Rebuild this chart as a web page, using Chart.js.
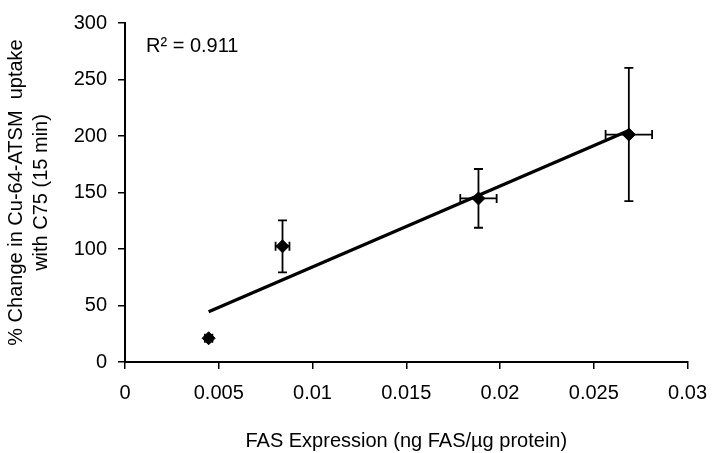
<!DOCTYPE html>
<html>
<head>
<meta charset="utf-8">
<script src="https://cdn.jsdelivr.net/npm/chart.js@4.4.1/dist/chart.umd.min.js"></script>
<style>
  html, body { margin: 0; padding: 0; background: #fff; }
</style>
</head>
<body>
<canvas id="myChart" width="719" height="453"></canvas>
<script>
// values
const fasExpression = [0.00446, 0.0084, 0.01885, 0.02687];
const uptakeChange = [21, 102.4, 144.8, 201.3];
const fasError = [0.0002, 0.00037, 0.00097, 0.00124];
const uptakeError = [2, 23, 26, 59];
const xTicks = [0, 0.005, 0.01, 0.015, 0.02, 0.025, 0.03];
const xTickLabels = ["0", "0.005", "0.01", "0.015", "0.02", "0.025", "0.03"];
const yTicks = [0, 50, 100, 150, 200, 250, 300];
const rSquaredLabel = "R\u00b2 = 0.911";

const FONT = { family: "'Liberation Sans', Arial, sans-serif", size: 20 };

// least squares line through the points (the Excel trendline)
function trendline(xs, ys) {
  const n = xs.length;
  const mx = xs.reduce((a, b) => a + b, 0) / n;
  const my = ys.reduce((a, b) => a + b, 0) / n;
  let sxy = 0, sxx = 0;
  xs.forEach((x, i) => {
    sxy += (x - mx) * (ys[i] - my);
    sxx += (x - mx) * (x - mx);
  });
  const slope = sxy / sxx;
  const icpt = my - slope * mx;
  const x0 = Math.min(...xs);
  const x1 = Math.max(...xs);
  return [{ x: x0, y: icpt + slope * x0 }, { x: x1, y: icpt + slope * x1 }];
}

const errorBars = {
  id: "errorBars",
  afterDatasetsDraw(chart) {
    const ctx = chart.ctx;
    const xs = chart.scales.x;
    const ys = chart.scales.y;
    const cap = 4.5;
    ctx.save();
    ctx.strokeStyle = "#000";
    ctx.lineWidth = 1.8;
    fasExpression.forEach((fx, i) => {
      const px = xs.getPixelForValue(fx);
      const py = ys.getPixelForValue(uptakeChange[i]);
      const top = ys.getPixelForValue(uptakeChange[i] + uptakeError[i]);
      const bot = ys.getPixelForValue(uptakeChange[i] - uptakeError[i]);
      const lft = xs.getPixelForValue(fx - fasError[i]);
      const rgt = xs.getPixelForValue(fx + fasError[i]);
      ctx.beginPath();
      ctx.moveTo(px, top); ctx.lineTo(px, bot);
      ctx.moveTo(px - cap, top); ctx.lineTo(px + cap, top);
      ctx.moveTo(px - cap, bot); ctx.lineTo(px + cap, bot);
      ctx.moveTo(lft, py); ctx.lineTo(rgt, py);
      ctx.moveTo(lft, py - cap); ctx.lineTo(lft, py + cap);
      ctx.moveTo(rgt, py - cap); ctx.lineTo(rgt, py + cap);
      ctx.stroke();
    });
    ctx.restore();
  },
  afterDraw(chart) {
    const ctx = chart.ctx;
    const area = chart.chartArea;
    ctx.save();
    ctx.fillStyle = "#000";
    ctx.font = FONT.size + "px " + FONT.family;
    ctx.textBaseline = "middle";
    ctx.fillText(rSquaredLabel, area.left + 21, area.top + 23);
    ctx.restore();
  },
};

const ctx = document.getElementById("myChart").getContext("2d");
new Chart(ctx, {
  type: "scatter",
  data: {
    datasets: [
      {
        label: "FAS",
        data: fasExpression.map((x, i) => ({ x: x, y: uptakeChange[i] })),
        pointStyle: "rectRot",
        pointRadius: 6.5,
        pointHoverRadius: 6.5,
        backgroundColor: "#000",
        borderColor: "#000",
        borderWidth: 1,
        showLine: false,
        order: 0,
      },
      {
        label: "trend",
        type: "line",
        data: trendline(fasExpression, uptakeChange),
        borderColor: "#000",
        borderWidth: 3.2,
        pointRadius: 0,
        fill: false,
        order: 1,
      },
    ],
  },
  options: {
    responsive: false,
    animation: false,
    layout: { padding: { top: 15, right: 27, bottom: 0, left: 0 } },
    plugins: { legend: { display: false }, tooltip: { enabled: false } },
    scales: {
      x: {
        type: "linear",
        position: "bottom",
        min: 0,
        max: 0.03,
        afterBuildTicks: (s) => { s.ticks = xTicks.map((v) => ({ value: v })); },
        afterFit: (s) => { s.height = 91; },
        grid: { drawOnChartArea: false, tickLength: 7, color: "#000", lineWidth: 1.5 },
        border: { color: "#000", width: 2 },
        ticks: {
          font: FONT, color: "#000", padding: 12, maxRotation: 0, autoSkip: false,
          callback: (v, i) => xTickLabels[i],
        },
        title: {
          display: true,
          text: "FAS Expression (ng FAS/\u00b5g protein)",
          font: FONT, color: "#000",
          padding: { top: 5, bottom: 0 },
        },
      },
      y: {
        type: "linear",
        min: 0,
        max: 300,
        afterBuildTicks: (s) => { s.ticks = yTicks.map((v) => ({ value: v })); },
        afterFit: (s) => { s.width = 125; },
        grid: { drawOnChartArea: false, tickLength: 7, color: "#000", lineWidth: 1.5 },
        border: { color: "#000", width: 2 },
        ticks: { font: FONT, color: "#000", padding: 11, autoSkip: false },
        title: {
          display: true,
          text: ["% Change in Cu-64-ATSM  uptake", "with C75 (15 min)"],
          font: { family: FONT.family, size: FONT.size, lineHeight: 1.25 },
          color: "#000",
          padding: { top: 4, bottom: 0 },
        },
      },
    },
  },
  plugins: [errorBars],
});
</script>
</body>
</html>
